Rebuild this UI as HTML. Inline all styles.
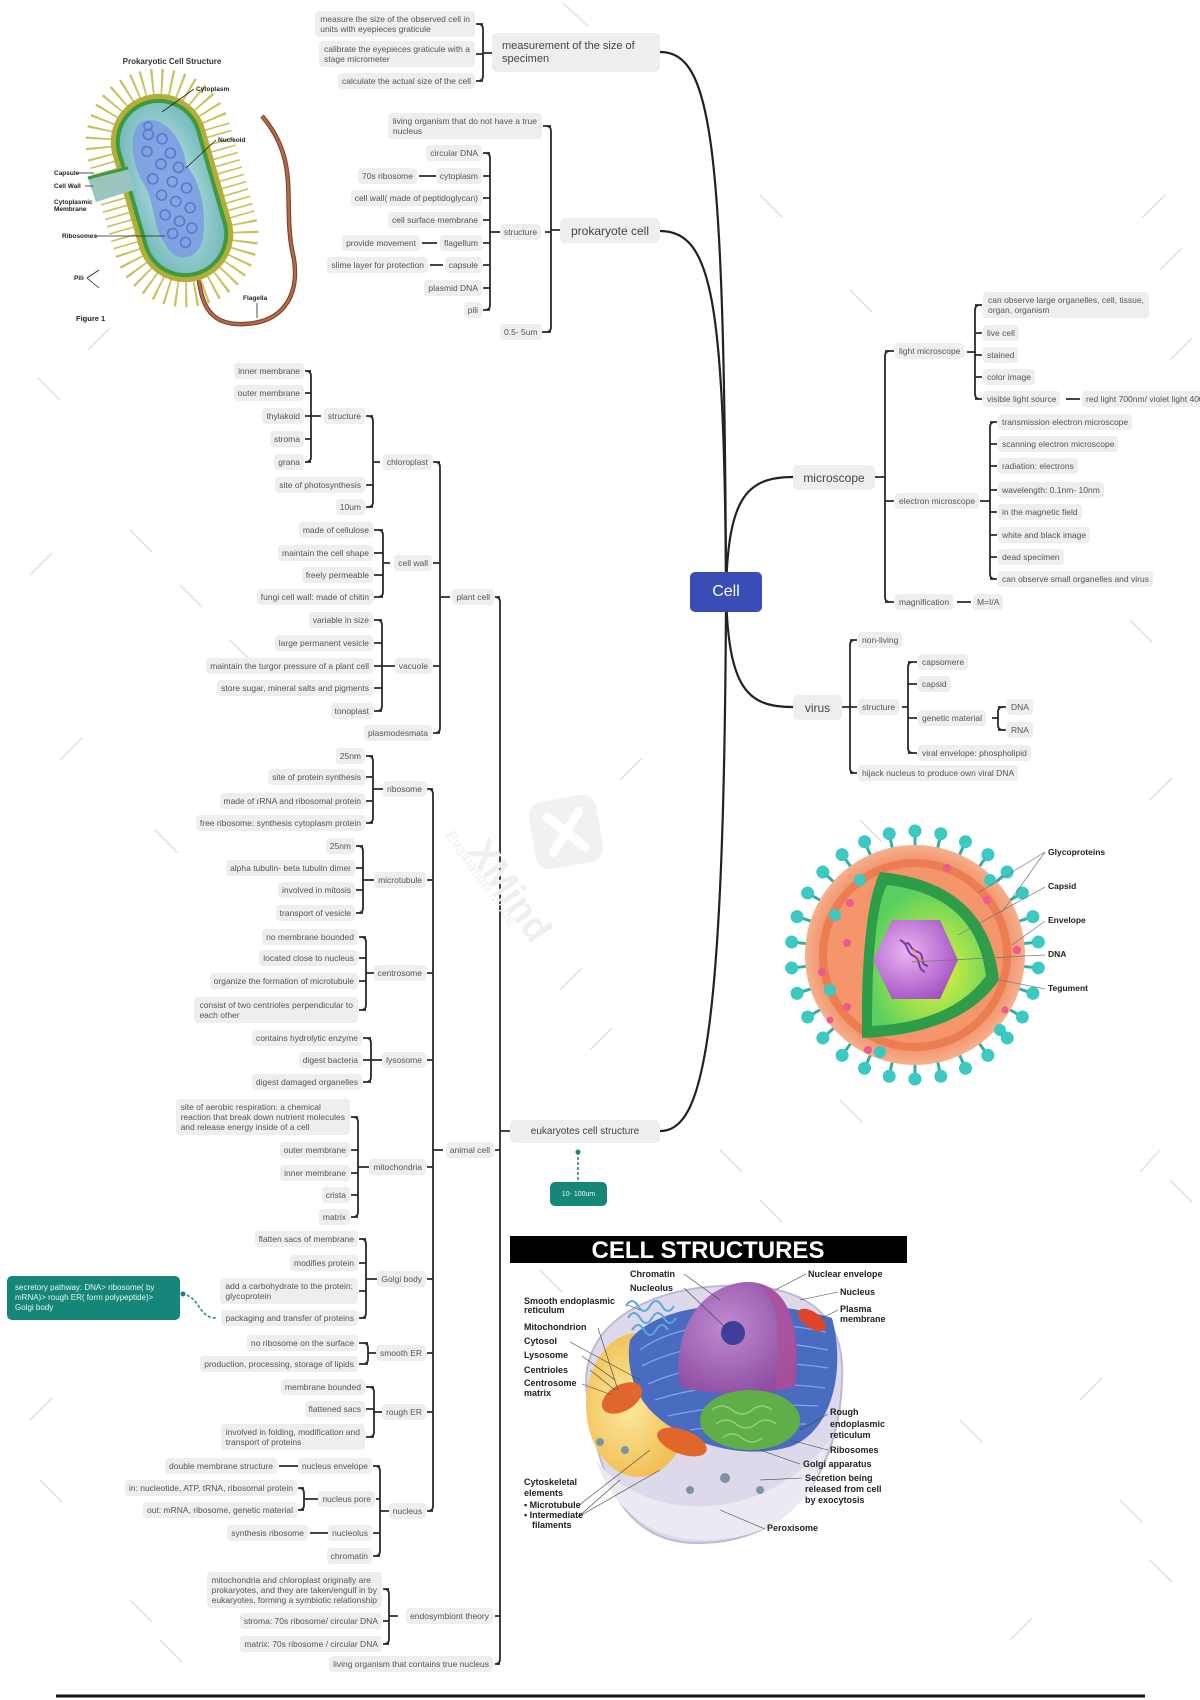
<!DOCTYPE html>
<html><head><meta charset="utf-8">
<style>
html,body{margin:0;padding:0;}
body{width:1200px;height:1700px;position:relative;overflow:hidden;background:#fff;font-family:"Liberation Sans",sans-serif;}
svg.bg{position:absolute;left:0;top:0;}
.n{position:absolute;height:16px;line-height:16px;padding:0 4px;background:#eeeeee;border-radius:4px;font-size:8.5px;color:#555;white-space:nowrap;}
.m{position:absolute;background:#eeeeee;border-radius:4px;font-size:8.5px;line-height:10px;color:#555;padding:3px 5px;box-sizing:border-box;white-space:nowrap;}
.b{position:absolute;background:#eeeeee;border-radius:5px;color:#444;box-sizing:border-box;white-space:nowrap;display:flex;align-items:center;}
.wm{position:absolute;color:#efefef;font-weight:bold;white-space:nowrap;}
</style></head><body>

<svg class="bg" width="1200" height="1700" viewBox="0 0 1200 1700" xmlns="http://www.w3.org/2000/svg">
<defs>
<radialGradient id="cyanG" cx="0.5" cy="0.5" r="0.6"><stop offset="0" stop-color="#c6eeea"/><stop offset="1" stop-color="#74b8bc"/></radialGradient>
<radialGradient id="greenG" cx="0.55" cy="0.6" r="0.6"><stop offset="0" stop-color="#e8f43a"/><stop offset="1" stop-color="#58cf60"/></radialGradient>
<radialGradient id="purpG" cx="0.4" cy="0.4" r="0.7"><stop offset="0" stop-color="#eab4f4"/><stop offset="1" stop-color="#a04cbe"/></radialGradient>
<radialGradient id="orgG" cx="0.5" cy="0.5" r="0.5"><stop offset="0.8" stop-color="#f08a60"/><stop offset="1" stop-color="#f6b08e"/></radialGradient>
<radialGradient id="yelG" cx="0.4" cy="0.5" r="0.6"><stop offset="0" stop-color="#fbe9a0"/><stop offset="1" stop-color="#f1b94a"/></radialGradient>
<radialGradient id="nucG" cx="0.4" cy="0.4" r="0.7"><stop offset="0" stop-color="#c08ad0"/><stop offset="1" stop-color="#8a4aa0"/></radialGradient>
<g id="sp"><path d="M0,-104V-119" stroke="#2fb0a8" stroke-width="3"/><circle cy="-124" r="6.5" fill="#3cc9c1"/></g>
</defs>

<g stroke="#e3e3e3" stroke-width="1.6" fill="none">
<path d="M563,3 L588,26"/><path d="M760,195 L782,217"/><path d="M850,290 L872,312"/><path d="M1165,195 L1142,218"/>
<path d="M38,378 L60,400"/><path d="M88,350 L110,328"/><path d="M130,530 L152,552"/><path d="M180,585 L202,607"/>
<path d="M30,575 L52,553"/><path d="M230,640 L252,662"/><path d="M155,830 L177,852"/><path d="M60,760 L82,738"/>
<path d="M840,1100 L862,1122"/><path d="M1160,1150 L1140,1172"/><path d="M1170,1180 L1192,1202"/><path d="M720,1150 L742,1172"/>
<path d="M760,1200 L782,1222"/><path d="M1120,1500 L1142,1522"/><path d="M1150,1560 L1172,1582"/><path d="M1080,1400 L1102,1378"/>
<path d="M40,1480 L62,1502"/><path d="M30,1420 L52,1398"/><path d="M130,1600 L152,1622"/><path d="M160,1640 L182,1662"/>
<path d="M960,1420 L982,1442"/><path d="M1010,1640 L1032,1618"/><path d="M620,780 L642,758"/><path d="M1130,620 L1152,642"/>
<path d="M1150,800 L1172,778"/><path d="M560,990 L582,968"/><path d="M590,1050 L612,1028"/><path d="M540,1270 L562,1292"/>
<path d="M1170,360 L1192,338"/><path d="M1160,270 L1182,248"/><path d="M860,820 L882,842"/>
</g>

<g stroke="#222" stroke-width="2.2" fill="none">
<path d="M660,52 C712,52 724,140 726,582"/>
<path d="M660,231 C712,231 724,300 726,582"/>
<path d="M726,592 C728,500 745,477 793,477"/>
<path d="M726,592 C728,690 748,707 793,707"/>
<path d="M726,600 C724,1050 702,1131 660,1131"/>
</g>

<g stroke="#2a2a2a" stroke-width="1.8" fill="none">
<path d="M478,24 Q483,24 483,29 L483,76 Q483,81 478,81 M476,24H483 M476,54H483 M476,81H483 M483,53H492"/>
<path d="M485,153 Q490,153 490,158 L490,305 Q490,310 485,310 M483,153H490 M483,176H490 M483,198H490 M483,220H490 M483,243H490 M483,265H490 M483,288H490 M483,310H490 M490,232H500"/>
<path d="M419,176H436 M422,243H437 M430,265H443"/>
<path d="M546,126 Q551,126 551,131 L551,327 Q551,332 546,332 M543,126H551 M545,232H551 M542,332H551 M551,230H560"/>
<path d="M306,371 Q311,371 311,376 L311,457 Q311,462 306,462 M305,371H311 M305,393H311 M305,416H311 M305,439H311 M305,462H311 M311,416H321"/>
<path d="M368,416 Q373,416 373,421 L373,502 Q373,507 368,507 M366,416H373 M366,485H373 M366,507H373 M373,462H380"/>
<path d="M378,530 Q383,530 383,535 L383,592 Q383,597 378,597 M374,530H383 M374,553H383 M374,575H383 M374,597H383 M383,563H390"/>
<path d="M377,620 Q382,620 382,625 L382,706 Q382,711 377,711 M374,620H382 M374,643H382 M374,666H382 M374,688H382 M374,711H382 M382,666H395"/>
<path d="M435,462 Q440,462 440,467 L440,728 Q440,733 435,733 M433,462H440 M433,563H440 M433,666H440 M433,733H440 M440,597H450"/>
<path d="M368,756 Q373,756 373,761 L373,818 Q373,823 368,823 M366,756H373 M366,777H373 M366,801H373 M366,823H373 M373,789H386"/>
<path d="M358,846 Q363,846 363,851 L363,908 Q363,913 358,913 M356,846H363 M356,868H363 M356,890H363 M356,913H363 M363,880H374"/>
<path d="M361,937 Q366,937 366,942 L366,1005 Q366,1010 361,1010 M359,937H366 M359,958H366 M359,981H366 M359,1010H366 M366,973H378"/>
<path d="M366,1038 Q371,1038 371,1043 L371,1077 Q371,1082 366,1082 M363,1038H371 M363,1060H371 M363,1082H371 M371,1060H384"/>
<path d="M353,1117 Q358,1117 358,1122 L358,1212 Q358,1217 353,1217 M351,1117H358 M351,1150H358 M351,1173H358 M351,1195H358 M351,1217H358 M358,1167H372"/>
<path d="M361,1239 Q366,1239 366,1244 L366,1313 Q366,1318 361,1318 M359,1239H366 M359,1263H366 M359,1291H366 M359,1318H366 M366,1279H380"/>
<path d="M363,1343 Q368,1343 368,1348 L368,1359 Q368,1364 363,1364 M359,1343H368 M359,1364H368 M368,1353H382"/>
<path d="M369,1387 Q374,1387 374,1392 L374,1432 Q374,1437 369,1437 M366,1387H374 M366,1409H374 M366,1437H374 M374,1412H386"/>
<path d="M299,1488 Q304,1488 304,1493 L304,1505 Q304,1510 299,1510 M298,1488H304 M298,1510H304 M304,1499H319"/>
<path d="M279,1466H299 M310,1533H328"/>
<path d="M375,1466 Q380,1466 380,1471 L380,1551 Q380,1556 375,1556 M373,1466H380 M376,1499H380 M373,1533H380 M373,1556H380 M380,1511H390"/>
<path d="M428,789 Q433,789 433,794 L433,1506 Q433,1511 428,1511 M427,789H433 M427,880H433 M427,973H433 M427,1060H433 M427,1167H433 M427,1279H433 M427,1353H433 M427,1412H433 M427,1511H433 M433,1150H443"/>
<path d="M384,1589 Q389,1589 389,1594 L389,1639 Q389,1644 384,1644 M383,1589H389 M383,1621H389 M383,1644H389 M389,1616H398"/>
<path d="M495,597 Q500,597 500,602 L500,1659 Q500,1664 495,1664 M495,597H500 M495,1150H500 M495,1616H500 M495,1664H500 M500,1131H510"/>
<path d="M890,351 Q885,351 885,356 L885,597 Q885,602 890,602 M885,351H894 M885,501H894 M885,602H894 M875,477H885"/>
<path d="M980,305 Q975,305 975,310 L975,394 Q975,399 980,399 M975,305H982 M975,333H982 M975,355H982 M975,377H982 M975,399H982 M967,352H975"/>
<path d="M1066,399H1080 M957,602H971"/>
<path d="M995,422 Q990,422 990,427 L990,574 Q990,579 995,579 M990,422H997 M990,444H997 M990,466H997 M990,490H997 M990,512H997 M990,535H997 M990,557H997 M990,579H997 M980,501H990"/>
<path d="M855,640 Q850,640 850,645 L850,768 Q850,773 855,773 M850,640H857 M850,707H857 M850,773H857 M842,707H850"/>
<path d="M913,662 Q908,662 908,667 L908,748 Q908,753 913,753 M908,662H917 M908,684H917 M908,718H917 M908,753H917 M902,707H908"/>
<path d="M1003,707 Q998,707 998,712 L998,725 Q998,730 1003,730 M998,707H1006 M998,730H1006 M992,718H998"/>
</g>

<g stroke="#16857a" stroke-width="1.5" fill="none" stroke-dasharray="3 2">
<path d="M182,1294 C200,1296 198,1318 216,1318"/>
<path d="M578,1152 V1182"/>
</g>
<circle cx="578" cy="1152" r="2.5" fill="#16857a"/>
<circle cx="183" cy="1294" r="2.5" fill="#16857a"/>

<g transform="translate(566,832) rotate(-10)" opacity="0.35">
<rect x="-34" y="-34" width="68" height="68" rx="14" fill="#d8d8d8"/>
<path d="M-16,-18 L16,18 M16,-18 L-16,18" stroke="#fff" stroke-width="9" stroke-linecap="round"/>
</g>

<!-- ===== Prokaryote image ===== -->
<path d="M197,262 C200,300 205,326 245,324 C287,322 302,290 292,250 C283,200 300,160 262,116" stroke="#7a3e26" stroke-width="4.5" fill="none"/>
<path d="M197,262 C200,300 205,326 245,324 C287,322 302,290 292,250 C283,200 300,160 262,116" stroke="#b06a48" stroke-width="2.5" fill="none"/>
<g transform="translate(172,188) rotate(-16)">
<rect x="-48" y="-96" width="96" height="192" rx="48" fill="none" stroke="#c8c25a" stroke-width="50" stroke-dasharray="1.6 6"/>
<rect x="-48" y="-96" width="96" height="192" rx="48" fill="#b3ad3a"/>
<rect x="-43" y="-91" width="86" height="182" rx="43" fill="#3e9a3c"/>
<rect x="-39" y="-87" width="78" height="174" rx="39" fill="url(#cyanG)"/>
<path d="M-10,-72 C14,-74 24,-40 20,-18 C30,4 26,34 16,56 C8,76 -18,76 -22,52 C-30,30 -20,8 -26,-12 C-32,-34 -28,-68 -10,-72 Z" fill="#7b9ae4" opacity="0.85"/>
<g fill="none" stroke="#4f6fcc" stroke-width="1.6" opacity="0.8">
<circle cx="-8" cy="-58" r="5"/><circle cx="4" cy="-50" r="5"/><circle cx="-14" cy="-42" r="5"/><circle cx="8" cy="-34" r="5"/><circle cx="-4" cy="-26" r="5"/>
<circle cx="12" cy="-18" r="5"/><circle cx="-16" cy="-14" r="5"/><circle cx="2" cy="-6" r="5"/><circle cx="14" cy="4" r="5"/><circle cx="-12" cy="4" r="5"/>
<circle cx="0" cy="14" r="5"/><circle cx="12" cy="24" r="5"/><circle cx="-14" cy="24" r="5"/><circle cx="-2" cy="34" r="5"/><circle cx="8" cy="44" r="5"/>
<circle cx="-12" cy="44" r="5"/><circle cx="-2" cy="56" r="5"/><circle cx="-6" cy="-66" r="4"/>
</g>
</g>
<polygon points="88,178 128,168 134,190 96,202" fill="#9cc4be"/>
<path d="M88,178 L128,168" stroke="#3e9a3c" stroke-width="3"/>
<rect x="110" y="55" width="124" height="11" fill="#fff"/>
<text x="172" y="64" font-size="8" font-weight="bold" text-anchor="middle" fill="#333" font-family="Liberation Sans, sans-serif">Prokaryotic Cell Structure</text>
<g font-size="6.5" font-weight="bold" fill="#222" font-family="Liberation Sans, sans-serif">
<text x="196" y="91">Cytoplasm</text>
<text x="218" y="142">Nucleoid</text>
<text x="54" y="175">Capsule</text>
<text x="54" y="188">Cell Wall</text>
<text x="54" y="204">Cytoplasmic</text>
<text x="54" y="211">Membrane</text>
<text x="62" y="238">Ribosomes</text>
<text x="74" y="280">Pili</text>
<text x="243" y="300">Flagella</text>
<text x="76" y="321" font-size="7.5">Figure 1</text>
</g>
<g stroke="#222" stroke-width="0.8" fill="none">
<path d="M194,89 L162,112"/><path d="M216,140 L186,168"/><path d="M79,173 H94"/><path d="M85,186 H93"/>
<path d="M95,236 H165"/><path d="M87,278 L99,270 M87,278 L99,288"/><path d="M257,303 V318"/>
</g>

<!-- ===== Virus image ===== -->
<g transform="translate(915,955)">
<use href="#sp" transform="rotate(0)"/><use href="#sp" transform="rotate(12)"/><use href="#sp" transform="rotate(24)"/><use href="#sp" transform="rotate(36)"/>
<use href="#sp" transform="rotate(48)"/><use href="#sp" transform="rotate(60)"/><use href="#sp" transform="rotate(72)"/><use href="#sp" transform="rotate(84)"/>
<use href="#sp" transform="rotate(96)"/><use href="#sp" transform="rotate(108)"/><use href="#sp" transform="rotate(120)"/><use href="#sp" transform="rotate(132)"/>
<use href="#sp" transform="rotate(144)"/><use href="#sp" transform="rotate(156)"/><use href="#sp" transform="rotate(168)"/><use href="#sp" transform="rotate(180)"/>
<use href="#sp" transform="rotate(192)"/><use href="#sp" transform="rotate(204)"/><use href="#sp" transform="rotate(216)"/><use href="#sp" transform="rotate(228)"/>
<use href="#sp" transform="rotate(240)"/><use href="#sp" transform="rotate(252)"/><use href="#sp" transform="rotate(264)"/><use href="#sp" transform="rotate(276)"/>
<use href="#sp" transform="rotate(288)"/><use href="#sp" transform="rotate(300)"/><use href="#sp" transform="rotate(312)"/><use href="#sp" transform="rotate(324)"/>
<use href="#sp" transform="rotate(336)"/><use href="#sp" transform="rotate(348)"/>
<circle r="110" fill="url(#orgG)"/>
<circle r="96" fill="#ec7c52"/>
<circle r="88" fill="#f4956c"/>
</g>
<g fill="#ee5a8c">
<circle cx="850" cy="903" r="4"/><circle cx="847" cy="943" r="4"/><circle cx="822" cy="972" r="4"/><circle cx="847" cy="1007" r="4"/>
<circle cx="868" cy="1050" r="4"/><circle cx="947" cy="868" r="4"/><circle cx="987" cy="900" r="4"/><circle cx="1017" cy="950" r="4"/>
<circle cx="830" cy="1020" r="3.5"/><circle cx="1005" cy="1010" r="3.5"/>
</g>
<g fill="#3cc9c1"><circle cx="835" cy="915" r="6"/><circle cx="860" cy="880" r="6"/><circle cx="830" cy="990" r="6"/><circle cx="880" cy="1052" r="6"/><circle cx="1000" cy="1030" r="6"/><circle cx="990" cy="880" r="6"/></g>
<path d="M880,872 Q988,882 999,980 Q962,1034 862,1038 L862,1000 Q864,905 880,872 Z" fill="#2e9c48"/>
<path d="M887,885 Q976,895 986,976 Q952,1022 872,1026 Q872,912 887,885 Z" fill="url(#greenG)"/>
<polygon points="873,960 892,920 940,920 958,960 940,999 892,999" fill="url(#purpG)"/>
<path d="M900,940 C910,945 905,952 914,956 C922,960 916,968 925,972 M904,944 C912,940 908,950 918,952 C926,955 918,964 928,966" stroke="#7a3aa0" stroke-width="2" fill="none"/>
<path d="M912,950 l4,3 M918,958 l4,3" stroke="#f0a020" stroke-width="2"/>
<g stroke="#777" stroke-width="0.7" fill="none">
<path d="M1045,852 L978,893 M1045,852 L1002,912"/><path d="M1045,887 L958,935"/><path d="M1045,921 L1012,945"/><path d="M1045,955 L912,962"/><path d="M1045,989 L990,978"/>
</g>
<g font-size="8.5" font-weight="bold" fill="#222" font-family="Liberation Sans, sans-serif">
<text x="1048" y="855">Glycoproteins</text><text x="1048" y="889">Capsid</text><text x="1048" y="923">Envelope</text><text x="1048" y="957">DNA</text><text x="1048" y="991">Tegument</text>
</g>

<!-- ===== Cell structures image ===== -->
<rect x="510" y="1236" width="397" height="27" fill="#000"/>
<text x="708" y="1258" font-size="24" font-weight="bold" fill="#fff" text-anchor="middle" font-family="Liberation Sans, sans-serif">CELL STRUCTURES</text>
<path d="M588,1400 C574,1330 640,1290 720,1286 C800,1282 846,1310 842,1380 C840,1460 800,1542 700,1543 C620,1545 598,1470 588,1400 Z" fill="#ddd8ea" stroke="#c2b8d6" stroke-width="2"/>
<path d="M596,1460 C640,1520 760,1530 830,1440 C810,1520 760,1540 700,1540 C650,1540 610,1505 596,1460 Z" fill="#ece9f3"/>
<ellipse cx="638" cy="1405" rx="52" ry="72" fill="url(#yelG)"/>
<path d="M630,1340 C660,1300 760,1296 832,1318 C846,1370 832,1430 792,1446 C742,1462 682,1442 652,1412 C632,1392 626,1362 630,1340 Z" fill="#4a6cc0"/>
<g stroke="#82a4e6" stroke-width="1.3" fill="none">
<path d="M640,1350 C680,1320 760,1318 826,1332"/><path d="M642,1366 C690,1340 770,1338 828,1350"/><path d="M648,1384 C700,1360 780,1360 828,1368"/>
<path d="M655,1400 C710,1382 780,1382 825,1388"/><path d="M668,1416 C720,1404 780,1404 818,1406"/><path d="M690,1430 C730,1424 780,1424 806,1424"/>
</g>
<path d="M680,1386 C672,1330 700,1286 745,1282 C790,1280 802,1330 795,1386 C770,1396 702,1396 680,1386 Z" fill="url(#nucG)"/>
<path d="M760,1286 C790,1290 800,1330 795,1386 C785,1390 780,1390 775,1390 C782,1340 778,1300 760,1286 Z" fill="#b0509a" opacity="0.7"/>
<circle cx="733" cy="1333" r="12" fill="#3e3e9c"/>
<ellipse cx="812" cy="1320" rx="16" ry="8" transform="rotate(35 812 1320)" fill="#e0442a"/>
<ellipse cx="750" cy="1420" rx="50" ry="30" fill="#5fae48"/>
<g stroke="#8fd078" stroke-width="1.5" fill="none"><path d="M712,1410 q10,-8 20,0 t20,0 t20,0"/><path d="M716,1424 q10,-8 20,0 t20,0 t20,0"/><path d="M722,1438 q10,-8 20,0 t20,0"/></g>
<ellipse cx="622" cy="1398" rx="22" ry="13" transform="rotate(-30 622 1398)" fill="#e0662c"/>
<ellipse cx="682" cy="1442" rx="26" ry="12" transform="rotate(20 682 1442)" fill="#e0662c"/>
<path d="M626,1306 q6,-10 12,0 t12,0 t12,0 t12,0 M628,1318 q6,-10 12,0 t12,0 t12,0 t12,0 M632,1330 q6,-10 12,0 t12,0 t12,0" stroke="#5aa8dc" stroke-width="2" fill="none"/>
<g fill="#7f93a8"><circle cx="600" cy="1442" r="4"/><circle cx="625" cy="1450" r="4"/><circle cx="725" cy="1478" r="5"/><circle cx="690" cy="1490" r="4"/><circle cx="760" cy="1490" r="4"/></g>
<g stroke="#444" stroke-width="0.6" fill="none">
<path d="M684,1274 L720,1300"/><path d="M684,1288 L728,1330"/><path d="M806,1274 L775,1290"/><path d="M838,1292 L800,1300"/><path d="M838,1310 L822,1318"/>
<path d="M628,1305 L640,1310"/><path d="M598,1328 L618,1390"/><path d="M570,1342 L640,1380"/><path d="M582,1356 L615,1380"/><path d="M590,1370 L615,1390"/><path d="M582,1384 L612,1395"/>
<path d="M828,1414 L800,1430"/><path d="M828,1450 L790,1440"/><path d="M800,1464 L760,1450"/><path d="M802,1478 L760,1480"/><path d="M765,1529 L720,1510"/>
<path d="M578,1506 L650,1450 M578,1517 L660,1470 M578,1517 L620,1480"/>
</g>
<g font-size="9" font-weight="bold" fill="#222" font-family="Liberation Sans, sans-serif">
<text x="630" y="1277">Chromatin</text><text x="630" y="1291">Nucleolus</text>
<text x="808" y="1277">Nuclear envelope</text><text x="840" y="1295">Nucleus</text><text x="840" y="1312">Plasma</text><text x="840" y="1322">membrane</text>
<text x="524" y="1304">Smooth endoplasmic</text><text x="524" y="1313">reticulum</text><text x="524" y="1330">Mitochondrion</text>
<text x="524" y="1344">Cytosol</text><text x="524" y="1358">Lysosome</text><text x="524" y="1373">Centrioles</text><text x="524" y="1386">Centrosome</text><text x="524" y="1396">matrix</text>
<text x="830" y="1415">Rough</text><text x="830" y="1427">endoplasmic</text><text x="830" y="1438">reticulum</text><text x="830" y="1453">Ribosomes</text>
<text x="803" y="1467">Golgi apparatus</text><text x="805" y="1481">Secretion being</text><text x="805" y="1492">released from cell</text><text x="805" y="1503">by exocytosis</text>
<text x="524" y="1485">Cytoskeletal</text><text x="524" y="1496">elements</text><text x="524" y="1508">• Microtubule</text><text x="524" y="1518">• Intermediate</text><text x="532" y="1528">filaments</text>
<text x="767" y="1531">Peroxisome</text>
</g>

<path d="M56,1696 H1145" stroke="#111" stroke-width="3"/>
</svg>

<div class="wm" style="left:452px;top:870px;font-size:38px;transform:rotate(55deg);">XMind</div>
<div class="wm" style="left:425px;top:870px;font-size:15px;transform:rotate(55deg);font-weight:normal;">Evaluation Mode</div>

<div class="m" style="right:725px;top:11px">measure the size of the observed cell in<br>units with eyepieces graticule</div>
<div class="m" style="right:725px;top:41px">calibrate the eyepieces graticule with a<br>stage micrometer</div>
<div class="n" style="right:725px;top:73px">calculate the actual size of the cell</div>
<div class="b" style="left:492px;top:33px;width:168px;height:39px;font-size:11px;line-height:13px;padding:0 10px;">measurement of the size of<br>specimen</div>

<div class="m" style="right:658px;top:113px">living organism that do not have a true<br>nucleus</div>
<div class="n" style="right:718px;top:145px">circular DNA</div>
<div class="n" style="right:718px;top:168px">cytoplasm</div>
<div class="n" style="right:783px;top:168px">70s ribosome</div>
<div class="n" style="right:718px;top:190px">cell wall( made of peptidoglycan)</div>
<div class="n" style="right:718px;top:212px">cell surface membrane</div>
<div class="n" style="right:718px;top:235px">flagellum</div>
<div class="n" style="right:780px;top:235px">provide movement</div>
<div class="n" style="right:718px;top:257px">capsule</div>
<div class="n" style="right:772px;top:257px">slime layer for protection</div>
<div class="n" style="right:718px;top:280px">plasmid DNA</div>
<div class="n" style="right:718px;top:302px">pili</div>
<div class="n" style="left:500px;top:224px">structure</div>
<div class="n" style="left:500px;top:324px">0.5- 5um</div>
<div class="b" style="left:560px;top:218px;width:100px;height:25px;font-size:12px;justify-content:center;">prokaryote cell</div>

<div class="n" style="right:896px;top:363px">inner membrane</div>
<div class="n" style="right:896px;top:385px">outer membrane</div>
<div class="n" style="right:896px;top:408px">thylakoid</div>
<div class="n" style="right:896px;top:431px">stroma</div>
<div class="n" style="right:896px;top:454px">grana</div>
<div class="n" style="right:835px;top:408px">structure</div>
<div class="n" style="right:835px;top:477px">site of photosynthesis</div>
<div class="n" style="right:835px;top:499px">10um</div>
<div class="n" style="right:768px;top:454px">chloroplast</div>
<div class="n" style="right:827px;top:522px">made of cellulose</div>
<div class="n" style="right:827px;top:545px">maintain the cell shape</div>
<div class="n" style="right:827px;top:567px">freely permeable</div>
<div class="n" style="right:827px;top:589px">fungi cell wall: made of chitin</div>
<div class="n" style="right:768px;top:555px">cell wall</div>
<div class="n" style="right:827px;top:612px">variable in size</div>
<div class="n" style="right:827px;top:635px">large permanent vesicle</div>
<div class="n" style="right:827px;top:658px">maintain the turgor pressure of a plant cell</div>
<div class="n" style="right:827px;top:680px">store sugar, mineral salts and pigments</div>
<div class="n" style="right:827px;top:703px">tonoplast</div>
<div class="n" style="right:768px;top:658px">vacuole</div>
<div class="n" style="right:768px;top:725px">plasmodesmata</div>
<div class="n" style="right:706px;top:589px">plant cell</div>

<div class="n" style="right:835px;top:748px">25nm</div>
<div class="n" style="right:835px;top:769px">site of protein synthesis</div>
<div class="n" style="right:835px;top:793px">made of rRNA and ribosomal protein</div>
<div class="n" style="right:835px;top:815px">free ribosome: synthesis cytoplasm protein</div>
<div class="n" style="right:774px;top:781px">ribosome</div>
<div class="n" style="right:845px;top:838px">25nm</div>
<div class="n" style="right:845px;top:860px">alpha tubulin- beta tubulin dimer</div>
<div class="n" style="right:845px;top:882px">involved in mitosis</div>
<div class="n" style="right:845px;top:905px">transport of vesicle</div>
<div class="n" style="right:774px;top:872px">microtubule</div>
<div class="n" style="right:842px;top:929px">no membrane bounded</div>
<div class="n" style="right:842px;top:950px">located close to nucleus</div>
<div class="n" style="right:842px;top:973px">organize the formation of microtubule</div>
<div class="m" style="right:842px;top:997px">consist of two centrioles perpendicular to<br>each other</div>
<div class="n" style="right:774px;top:965px">centrosome</div>
<div class="n" style="right:838px;top:1030px">contains hydrolytic enzyme</div>
<div class="n" style="right:838px;top:1052px">digest bacteria</div>
<div class="n" style="right:838px;top:1074px">digest damaged organelles</div>
<div class="n" style="right:774px;top:1052px">lysosome</div>
<div class="m" style="right:850px;top:1099px">site of aerobic respiration: a chemical<br>reaction that break down nutrient molecules<br>and release energy inside of a cell</div>
<div class="n" style="right:850px;top:1142px">outer membrane</div>
<div class="n" style="right:850px;top:1165px">inner membrane</div>
<div class="n" style="right:850px;top:1187px">crista</div>
<div class="n" style="right:850px;top:1209px">matrix</div>
<div class="n" style="right:774px;top:1159px">mitochondria</div>
<div class="n" style="right:842px;top:1231px">flatten sacs of membrane</div>
<div class="n" style="right:842px;top:1255px">modifies protein</div>
<div class="m" style="right:842px;top:1278px">add a carbohydrate to the protein:<br>glycoprotein</div>
<div class="n" style="right:842px;top:1310px">packaging and transfer of proteins</div>
<div class="n" style="right:774px;top:1271px">Golgi body</div>
<div class="n" style="right:842px;top:1335px">no ribosome on the surface</div>
<div class="n" style="right:842px;top:1356px">production, processing, storage of lipids</div>
<div class="n" style="right:774px;top:1345px">smooth ER</div>
<div class="n" style="right:835px;top:1379px">membrane bounded</div>
<div class="n" style="right:835px;top:1401px">flattened sacs</div>
<div class="m" style="right:835px;top:1424px">involved in folding, modification and<br>transport of proteins</div>
<div class="n" style="right:774px;top:1404px">rough ER</div>
<div class="n" style="right:828px;top:1458px">nucleus envelope</div>
<div class="n" style="right:923px;top:1458px">double membrane structure</div>
<div class="n" style="right:825px;top:1491px">nucleus pore</div>
<div class="n" style="right:903px;top:1480px">in: nucleotide, ATP, tRNA, ribosomal protein</div>
<div class="n" style="right:903px;top:1502px">out: mRNA, ribosome, genetic material</div>
<div class="n" style="right:828px;top:1525px">nucleolus</div>
<div class="n" style="right:892px;top:1525px">synthesis ribosome</div>
<div class="n" style="right:828px;top:1548px">chromatin</div>
<div class="n" style="right:774px;top:1503px">nucleus</div>
<div class="n" style="right:706px;top:1142px">animal cell</div>

<div class="m" style="left:7px;top:1276px;width:173px;height:44px;background:#16857a;color:#e8f6f3;padding:7px 8px;border-radius:5px;font-size:8px">secretory pathway: DNA&gt; ribosome( by<br>mRNA)&gt; rough ER( form polypeptide)&gt;<br>Golgi body</div>

<div class="m" style="right:818px;top:1572px">mitochondria and chloroplast originally are<br>prokaryotes, and they are taken/engulf in by<br>eukaryotes, forming a symbiotic relationship</div>
<div class="n" style="right:818px;top:1613px">stroma: 70s ribosome/ circular DNA</div>
<div class="n" style="right:818px;top:1636px">matrix: 70s ribosome / circular DNA</div>
<div class="n" style="right:707px;top:1608px">endosymbiont theory</div>
<div class="n" style="right:707px;top:1656px">living organism that contains true nucleus</div>

<div class="b" style="left:510px;top:1120px;width:150px;height:23px;font-size:10px;justify-content:center;">eukaryotes cell structure</div>
<div class="b" style="left:550px;top:1182px;width:57px;height:24px;font-size:7px;justify-content:center;background:#16857a;color:#e8f6f3;">10- 100um</div>

<div class="b" style="left:690px;top:572px;width:72px;height:40px;background:#3a4cb6;color:#fff;font-size:16px;justify-content:center;border-radius:5px;">Cell</div>

<div class="b" style="left:793px;top:465px;width:82px;height:25px;font-size:12px;justify-content:center;">microscope</div>
<div class="n" style="left:895px;top:343px">light microscope</div>
<div class="m" style="left:983px;top:292px">can observe large organelles, cell, tissue,<br>organ, organism</div>
<div class="n" style="left:983px;top:325px">live cell</div>
<div class="n" style="left:983px;top:347px">stained</div>
<div class="n" style="left:983px;top:369px">color image</div>
<div class="n" style="left:983px;top:391px">visible light source</div>
<div class="n" style="left:1082px;top:391px">red light 700nm/ violet light 400nm</div>
<div class="n" style="left:895px;top:493px">electron microscope</div>
<div class="n" style="left:998px;top:414px">transmission electron microscope</div>
<div class="n" style="left:998px;top:436px">scanning electron microscope</div>
<div class="n" style="left:998px;top:458px">radiation: electrons</div>
<div class="n" style="left:998px;top:482px">wavelength: 0.1nm- 10nm</div>
<div class="n" style="left:998px;top:504px">in the magnetic field</div>
<div class="n" style="left:998px;top:527px">white and black image</div>
<div class="n" style="left:998px;top:549px">dead specimen</div>
<div class="n" style="left:998px;top:571px">can observe small organelles and virus</div>
<div class="n" style="left:895px;top:594px">magnification</div>
<div class="n" style="left:973px;top:594px">M=I/A</div>

<div class="b" style="left:793px;top:695px;width:49px;height:25px;font-size:12px;justify-content:center;">virus</div>
<div class="n" style="left:858px;top:632px">non-living</div>
<div class="n" style="left:858px;top:699px">structure</div>
<div class="n" style="left:858px;top:765px">hijack nucleus to produce own viral DNA</div>
<div class="n" style="left:918px;top:654px">capsomere</div>
<div class="n" style="left:918px;top:676px">capsid</div>
<div class="n" style="left:918px;top:710px">genetic material</div>
<div class="n" style="left:918px;top:745px">viral envelope: phospholipid</div>
<div class="n" style="left:1007px;top:699px">DNA</div>
<div class="n" style="left:1007px;top:722px">RNA</div>

</body></html>
